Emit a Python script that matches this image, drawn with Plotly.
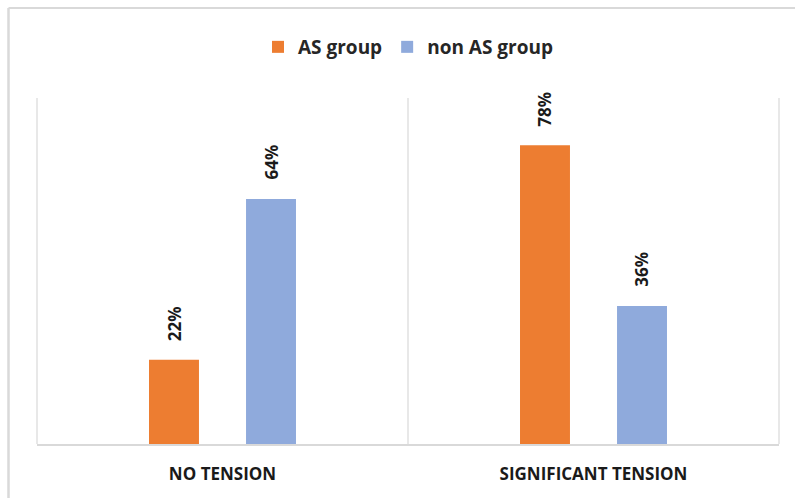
import plotly.graph_objects as go

# Share of patients by tension status
categories = ["NO TENSION", "SIGNIFICANT TENSION"]
as_group = [0.22, 0.78]
non_as_group = [0.64, 0.36]
series_names = ["AS group", "non AS group"]
series_colors = ["#ED7D31", "#8FAADC"]

W, H = 795, 498
margin = dict(l=37, r=16, t=98, b=54)
bargap, bargroupgap = 0.477, 0.485

plot_w = W - margin["l"] - margin["r"]
plot_h = H - margin["t"] - margin["b"]
px_per_cat = plot_w / len(categories)
# horizontal distance from the category centre to each bar centre
bar_offset = (1 - bargap) / 4 * px_per_cat

fig = go.Figure()
for name, vals, color in zip(series_names, [as_group, non_as_group], series_colors):
    fig.add_trace(go.Bar(
        x=categories, y=vals, name=name,
        marker=dict(color=color, line=dict(width=0)),
        hoverinfo="skip",
    ))

label_font = dict(family="Open Sans", size=17, color="#1a1a1a", weight="bold")
annotations = []
for k, vals in enumerate([as_group, non_as_group]):
    shift = -bar_offset if k == 0 else bar_offset
    for cat, v in zip(categories, vals):
        annotations.append(dict(
            x=cat, y=v, xref="x", yref="y",
            text=f"{round(v * 100)}%",
            textangle=-90, showarrow=False,
            xanchor="center", yanchor="bottom",
            xshift=shift, yshift=17,
            font=label_font,
        ))

grid = dict(color="#d9d9d9", width=1.2)
# category separators at both plot edges and between the two groups
shapes = [
    dict(type="line", xref="paper", yref="paper", x0=gx, x1=gx, y0=0, y1=1, line=grid, layer="below")
    for gx in (0, 0.5, 1)
]

# chart frame: light grey left and top edges
fx = (8.5 - margin["l"]) / plot_w
fy_top = 1 + (margin["t"] - 8) / plot_h
fy_bot = -(margin["b"] + 5) / plot_h
shapes += [
    dict(type="line", xref="paper", yref="paper", x0=fx, x1=fx, y0=fy_bot, y1=fy_top,
         line=dict(color="#d9d9d9", width=2.5)),
    dict(type="line", xref="paper", yref="paper", x0=fx, x1=1.05, y0=fy_top, y1=fy_top,
         line=dict(color="#d9d9d9", width=2)),
]

fig.update_layout(
    width=W, height=H,
    margin=margin,
    paper_bgcolor="white", plot_bgcolor="white",
    barmode="group", bargap=bargap, bargroupgap=bargroupgap,
    showlegend=True,
    legend=dict(
        orientation="h", x=0.5, xanchor="center",
        y=1 + (margin["t"] - 47) / plot_h, yanchor="middle",
        font=dict(family="Open Sans", size=19, color="#262626", weight="bold"),
        itemclick=False, itemdoubleclick=False,
    ),
    xaxis=dict(
        type="category",
        showgrid=False,
        showline=True, linecolor="#d9d9d9", linewidth=1.5,
        ticks="", ticklabelstandoff=14,
        tickfont=dict(family="Open Sans", size=17, color="#1a1a1a", weight="bold"),
        fixedrange=True,
    ),
    yaxis=dict(
        range=[0, plot_h / 3.83 / 100],
        visible=False, showgrid=False, zeroline=False, fixedrange=True,
    ),
    annotations=annotations,
    shapes=shapes,
)

fig.write_html("out.html")
